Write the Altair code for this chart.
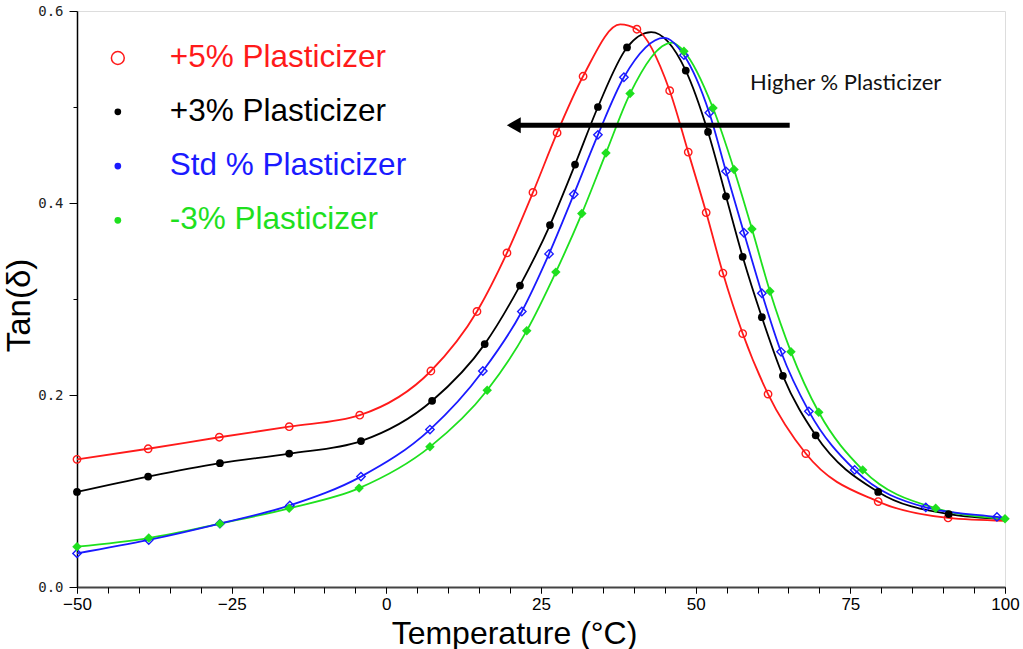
import altair as alt
import pandas as pd

# ---------------- data ----------------
series_names = ["+5% Plasticizer", "+3% Plasticizer", "Std % Plasticizer", "-3% Plasticizer"]
series_colors = ["#ff1a1a", "#000000", "#1a1aff", "#1ee01e"]

# marker points (temperature °C, tan delta)
red_T = [-50, -38.5, -27.0, -15.7, -4.3, 7.2, 14.65, 19.5, 23.7, 27.6, 31.8, 40.5, 45.8, 48.8, 51.7,
         54.4, 57.6, 61.7, 67.8, 79.5, 90.8]
red_V = [0.133, 0.144, 0.156, 0.167, 0.179, 0.225, 0.287, 0.348, 0.411, 0.473, 0.532, 0.581, 0.517,
         0.453, 0.390, 0.327, 0.264, 0.201, 0.139, 0.089, 0.072]
red_extra_T = [37.8, 100]
red_extra_V = [0.586, 0.069]

black_T = [-50, -38.5, -26.9, -15.7, -4.1, 7.4, 15.9, 21.6, 26.45, 30.5, 34.2, 38.9, 48.4, 52.0,
           54.9, 57.6, 60.7, 64.1, 69.4, 79.5, 90.9]
black_V = [0.099, 0.115, 0.129, 0.139, 0.152, 0.194, 0.253, 0.314, 0.377, 0.440, 0.500, 0.562,
           0.538, 0.474, 0.407, 0.344, 0.281, 0.220, 0.158, 0.099, 0.076]
black_extra_T = [42.8, 100]
black_extra_V = [0.578, 0.071]

blue_T = [-50, -38.4, -26.9, -15.6, -4.1, 7.05, 15.6, 21.9, 26.3, 30.3, 34.2, 38.4, 48.1, 52.2,
          54.9, 57.8, 60.7, 63.8, 68.3, 75.7, 87.2, 98.7]
blue_V = [0.035, 0.049, 0.066, 0.085, 0.115, 0.164, 0.225, 0.287, 0.347, 0.409, 0.471, 0.531,
          0.554, 0.494, 0.433, 0.369, 0.306, 0.245, 0.183, 0.122, 0.083, 0.073]
blue_extra_T = [44.9, 100]
blue_extra_V = [0.572, 0.072]

green_T = [-50, -38.4, -26.9, -15.7, -4.4, 7.05, 16.3, 22.7, 27.4, 31.6, 35.5, 39.4, 48.1, 52.8,
           56.2, 59.1, 62.0, 65.4, 69.9, 77.0, 88.8, 100]
green_V = [0.042, 0.051, 0.066, 0.082, 0.103, 0.146, 0.205, 0.267, 0.328, 0.389, 0.452, 0.514,
           0.558, 0.499, 0.435, 0.373, 0.308, 0.245, 0.182, 0.122, 0.082, 0.071]
green_extra_T = [46.2]
green_extra_V = [0.567]

# legend / annotation anchors (data coordinates)
legend_sym_T = -43.4
legend_text_T = -35.0
legend_V = [0.551, 0.495, 0.4385, 0.382]
note_text = "Higher % Plasticizer"
note_T = 58.8
note_V = 0.525
arrow_T = [21.3, 65.2]
arrow_V = 0.481
arrow_head_T = 20.6

x_major = [-50, -25, 0, 25, 50, 75, 100]
x_minor = list(range(-50, 101, 5))
y_major = [0.0, 0.2, 0.4, 0.6]
y_minor = [0.1, 0.3, 0.5]

# ---------------- tables ----------------
rows = []
for name, T, V, ET, EV in [
    (series_names[0], red_T, red_V, red_extra_T, red_extra_V),
    (series_names[1], black_T, black_V, black_extra_T, black_extra_V),
    (series_names[2], blue_T, blue_V, blue_extra_T, blue_extra_V),
    (series_names[3], green_T, green_V, green_extra_T, green_extra_V),
]:
    for t, v in zip(T, V):
        rows.append({"series": name, "T": t, "V": v, "marker": True})
    for t, v in zip(ET, EV):
        rows.append({"series": name, "T": t, "V": v, "marker": False})
df = pd.DataFrame(rows).sort_values(["series", "T"])
mk = df[df["marker"]]

leg = pd.DataFrame({"series": series_names, "Ts": [legend_sym_T] * 4,
                    "Tt": [legend_text_T] * 4, "V": legend_V})
note = pd.DataFrame({"T": [note_T], "V": [note_V], "label": [note_text]})
arrow = pd.DataFrame({"T": [arrow_T[0]], "T2": [arrow_T[1]], "V": [arrow_V]})
head = pd.DataFrame({"T": [arrow_head_T], "V": [arrow_V]})

xs = alt.Scale(domain=[-50, 100], nice=False, zero=False)
ys = alt.Scale(domain=[0, 0.6], nice=False, zero=False)
cs = alt.Scale(domain=series_names, range=series_colors)

xaxis = alt.Axis(values=x_major, orient="bottom", labelOverlap=False, labelFlush=False,
                 tickSize=6, tickColor="black", labelPadding=3, labelFontSize=17,
                 labelFont="Liberation Sans Narrow, Liberation Sans", labelColor="black",
                 domainColor="#444", domainWidth=2, grid=False,
                 title="Temperature (°C)", titleFontSize=32, titleFont="Liberation Sans",
                 titleFontWeight="normal", titleColor="black", titleX=437, titleY=56,
                 titleBaseline="alphabetic", titleAlign="center")
yaxis = alt.Axis(values=y_major, orient="left", format=".1f", labelOverlap=False, labelFlush=False,
                 tickSize=8, tickColor="black", labelPadding=6, labelFontSize=14,
                 labelFont="DejaVu Sans Mono", labelColor="#222",
                 domainColor="black", domainWidth=1.5, grid=False,
                 title="Tan(δ)", titleFontSize=33, titleFont="Liberation Sans",
                 titleFontWeight="normal", titleColor="black", titleX=-48, titleY=294,
                 titleBaseline="alphabetic", titleAlign="center", titleAngle=270)
xminor_axis = alt.Axis(values=x_minor, orient="bottom", labels=False, domain=False, grid=False,
                       tickSize=6, tickColor="black", title=None)
yminor_axis = alt.Axis(values=y_minor, orient="left", labels=False, domain=False, grid=False,
                       tickSize=4, tickColor="black", title=None)

lines = alt.Chart(df).mark_line(strokeWidth=1.8, interpolate="monotone").encode(
    x=alt.X("T:Q", scale=xs, axis=xaxis),
    y=alt.Y("V:Q", scale=ys, axis=yaxis),
    color=alt.Color("series:N", scale=cs, legend=None),
    detail="series:N",
    order="T:Q",
)

def markers(name, shape, filled, size, sw, xax=None, yax=None):
    return alt.Chart(mk).transform_filter(alt.datum.series == name).mark_point(
        shape=shape, filled=filled, size=size, strokeWidth=sw, opacity=1
    ).encode(x=alt.X("T:Q", axis=xax), y=alt.Y("V:Q", axis=yax),
             color=alt.Color("series:N", scale=cs, legend=None))

m_red = markers(series_names[0], "circle", False, 55, 1.4, xminor_axis, yminor_axis)
m_black = markers(series_names[1], "circle", True, 60, 1)
m_blue = markers(series_names[2], "diamond", False, 70, 1.4)
m_green = markers(series_names[3], "diamond", True, 90, 1)

leg_open = alt.Chart(leg).transform_filter(alt.datum.series == series_names[0]).mark_point(
    shape="circle", filled=False, size=165, strokeWidth=1.5, opacity=1
).encode(x=alt.X("Ts:Q", axis=None), y=alt.Y("V:Q", axis=None),
         color=alt.Color("series:N", scale=cs, legend=None))
leg_dots = alt.Chart(leg).transform_filter(alt.datum.series != series_names[0]).mark_point(
    shape="circle", filled=True, size=45, opacity=1
).encode(x=alt.X("Ts:Q", axis=None), y=alt.Y("V:Q", axis=None),
         color=alt.Color("series:N", scale=cs, legend=None))
leg_text = alt.Chart(leg).mark_text(
    align="left", baseline="middle", fontSize=31.5, font="Liberation Sans"
).encode(x=alt.X("Tt:Q", axis=None), y=alt.Y("V:Q", axis=None), text="series:N",
         color=alt.Color("series:N", scale=cs, legend=None))

note_layer = alt.Chart(note).mark_text(
    align="left", baseline="middle", fontSize=22, font="Lato", color="#111"
).encode(x=alt.X("T:Q", axis=None), y=alt.Y("V:Q", axis=None), text="label:N")
arrow_line = alt.Chart(arrow).mark_rule(strokeWidth=5, color="black").encode(
    x=alt.X("T:Q", axis=None), x2="T2:Q", y=alt.Y("V:Q", axis=None))
arrow_head = alt.Chart(head).mark_point(
    shape="triangle-left", filled=True, size=260, color="black", opacity=1
).encode(x=alt.X("T:Q", axis=None), y=alt.Y("V:Q", axis=None))

chart = alt.layer(
    lines, m_red, m_black, m_blue, m_green,
    leg_open, leg_dots, leg_text, note_layer, arrow_line, arrow_head
).resolve_axis(x="independent", y="independent").properties(
    width=928, height=576,
    autosize=alt.AutoSizeParams(type="none"),
    padding={"left": 77, "top": 11, "right": 18, "bottom": 62},
).configure_view(stroke="black", strokeWidth=1.5).configure(background="white")

chart.save("out.html", embed_options={"renderer": "svg", "actions": False})
